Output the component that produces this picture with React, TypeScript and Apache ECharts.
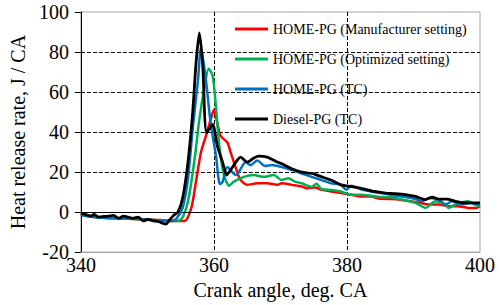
import React, { useEffect, useRef } from "react";
import * as echarts from "echarts";

const seriesNames = [
  "HOME-PG (Manufacturer setting)",
  "HOME-PG (Optimized setting)",
  "HOME-PG (TC)",
  "Diesel-PG (TC)",
];
const seriesColors = ["#FF0000", "#00B050", "#0070C0", "#000000"];

const xTicks = [340, 360, 380, 400];
const yTicks = [-20, 0, 20, 40, 60, 80, 100];

const redAngles = [340, 342, 344, 346, 348, 350, 352, 354, 355.6, 356.6, 357.3, 358.05, 358.8, 359.5, 360, 360.5, 361, 362, 362.5, 363, 363.5, 364, 365, 366.5, 368, 369.5, 370.2, 371.7, 373.2, 374, 375.2, 376.2, 377.6, 379.1, 380.6, 382.1, 383.6, 385, 386.6, 388, 389.5, 391, 392.3, 393.8, 395.3, 396.7, 398.2, 399.5, 400];
const redValues = [-1.5, -2.5, -3, -3.2, -3.5, -3.8, -4, -4.5, -4.4, 2.1, 15.2, 29.9, 38.1, 46.2, 51.1, 44.6, 38.1, 34.8, 30, 25, 20, 16, 13.6, 14.4, 14.4, 13.6, 14.4, 13.6, 12.8, 11.9, 12.3, 11.1, 10.3, 9.5, 8.7, 7.8, 7.8, 6.6, 6.5, 6.2, 5.4, 4.6, 3.8, 3.8, 2.9, 2.9, 2.1, 2.1, 2.9];

const greenAngles = [340, 342, 344, 346, 348, 350, 352, 354, 355.1, 356.1, 357.1, 357.8, 358.6, 359.2, 359.8, 360.3, 360.8, 361.5, 362.3, 363, 364.5, 366, 367.5, 369, 370.2, 371.2, 372.2, 373.2, 374.7, 375.4, 376.2, 377.6, 379.1, 380.6, 382.1, 383.6, 385, 386.6, 388.8, 390.3, 391.8, 393.3, 394.8, 395.3, 396.3, 398.2, 399.2, 400];
const greenValues = [-1.5, -2.5, -3, -3.2, -3.5, -3.8, -4.2, -4.5, -3.6, 5.4, 26.6, 46.2, 62.6, 71.6, 68.3, 52.8, 33.2, 18.5, 13.2, 15.2, 17.6, 18.5, 17.6, 18.5, 16, 16.9, 15.2, 14.4, 12.7, 14.1, 11.4, 11.1, 10.3, 8.7, 8.7, 8.2, 7.5, 7.4, 5.8, 4.6, 2.1, 5.4, 3.8, 2.1, 3.8, 5.4, 3.8, 2.9];

const blueAngles = [340, 342, 344, 346, 348, 350, 352, 353.5, 354.3, 355.3, 356.1, 356.8, 357.6, 358.05, 358.8, 359.5, 360.3, 360.9, 361.3, 362, 363.3, 364.8, 365.5, 366.5, 367.7, 368.7, 370.2, 371.7, 373.2, 374.7, 376.2, 377.6, 379.1, 379.9, 380.6, 382.1, 383.6, 385, 386.6, 387.3, 388.8, 390.3, 391.3, 392.3, 393.8, 394.8, 395.8, 397.2, 398.7, 400];
const blueValues = [-1.5, -2.5, -3, -3, -3.2, -3.8, -4.2, -4.5, -3.5, 2.1, 16.8, 41.3, 65.8, 82.2, 65.8, 44.6, 28.3, 14, 15, 22.5, 18.5, 25, 23.4, 25.8, 23, 23.5, 22.5, 21, 19.3, 17.6, 16, 14.4, 13.6, 11.1, 13.1, 11.4, 10.3, 9.5, 8.7, 8.2, 7.5, 6.5, 5.4, 7, 6.2, 3.8, 5.4, 3.8, 4.6, 3.8];

const blackAngles = [340, 341, 341.5, 342, 342.7, 343.5, 344.2, 344.9, 345.7, 346.4, 347.1, 347.8, 348.6, 349.4, 350.1, 350.9, 351.6, 352.4, 352.8, 353.3, 354, 354.6, 355.3, 356.1, 356.8, 357.3, 357.8, 358.3, 358.9, 359.8, 360.5, 361.3, 361.9, 362.5, 363.3, 364, 365, 366, 366.7, 368, 369.5, 370.2, 371.7, 373.2, 374.7, 376.2, 377.6, 379.1, 379.9, 382.1, 384.1, 385.8, 387.3, 388.8, 390.3, 391.8, 392.8, 393.8, 395, 396.3, 397.7, 400];
const blackValues = [-0.5, -1.5, -2, -1.2, -2.5, -2.2, -2, -1.6, -3.1, -2, -2.5, -3.1, -2.5, -4.4, -3.6, -4.4, -4.7, -5.7, -6, -4.1, -1.5, 0, 7, 25, 49.5, 74, 89.6, 74, 39.7, 43.8, 33.2, 25, 18.5, 21, 25, 27.5, 25, 27, 28, 27.5, 25, 24.2, 21.7, 20, 19.3, 17.6, 16, 13.6, 13.1, 11.9, 10.3, 9.5, 9.2, 8.7, 7.8, 6.2, 7.5, 6.5, 6.5, 5.4, 4.6, 4.6];

const allAngles = [redAngles, greenAngles, blueAngles, blackAngles];
const allValues = [redValues, greenValues, blueValues, blackValues];

const FONT = "'Liberation Serif', 'Times New Roman', serif";

export default function App() {
  const ref = useRef<HTMLDivElement>(null);
  useEffect(() => {
    if (!ref.current) return;
    const chart = echarts.init(ref.current, undefined, { renderer: "svg" });
    const series: any[] = seriesNames.map((name, i) => ({
      name,
      type: "line",
      data: allAngles[i].map((a, j) => [a, allValues[i][j]]),
      symbol: "none",
      smooth: 0.25,
      lineStyle: { color: seriesColors[i], width: i === 3 ? 2.8 : 2.5 },
      itemStyle: { color: seriesColors[i] },
      z: 3 + i,
    }));
    series.push({
      name: "zero",
      type: "line",
      data: [],
      z: 2,
      markLine: {
        silent: true,
        symbol: "none",
        label: { show: false },
        lineStyle: { color: "#000", type: "solid", width: 1 },
        data: [{ yAxis: 0 }],
      },
    });
    chart.setOption({
      animation: false,
      textStyle: { fontFamily: FONT },
      grid: {
        left: 77,
        right: 20,
        top: 12,
        bottom: 48,
        show: true,
        borderColor: "#A6A6A6",
        borderWidth: 1,
      },
      legend: {
        data: seriesNames,
        orient: "vertical",
        left: 235,
        top: 21,
        padding: 0,
        itemWidth: 33,
        itemHeight: 3,
        itemGap: 14,
        icon: "rect",
        textStyle: { fontFamily: FONT, fontSize: 14, color: "#000", lineHeight: 16 },
      },
      xAxis: {
        type: "value",
        min: xTicks[0],
        max: xTicks[xTicks.length - 1],
        interval: 20,
        name: "Crank angle, deg. CA",
        nameLocation: "middle",
        nameGap: 23,
        nameTextStyle: { fontFamily: FONT, fontSize: 20, color: "#000" },
        axisLine: { onZero: false, lineStyle: { color: "#A6A6A6", width: 1 } },
        axisTick: { show: false },
        axisLabel: { fontFamily: FONT, fontSize: 20, color: "#000", margin: 3 },
        splitLine: {
          show: true,
          showMinLine: false,
          showMaxLine: false,
          lineStyle: { color: "#000", type: [4, 2], width: 1 },
        },
      },
      yAxis: {
        type: "value",
        min: yTicks[0],
        max: yTicks[yTicks.length - 1],
        interval: 20,
        name: "Heat release rate, J / CA",
        nameLocation: "middle",
        nameGap: 50,
        nameTextStyle: { fontFamily: FONT, fontSize: 20, color: "#000" },
        axisLine: { show: true, onZero: false, lineStyle: { color: "#000", width: 1 } },
        axisTick: { show: true, length: 6, lineStyle: { color: "#000" } },
        axisLabel: { fontFamily: FONT, fontSize: 20, color: "#000", margin: 12 },
        splitLine: {
          show: true,
          showMinLine: false,
          showMaxLine: false,
          lineStyle: { color: "#000", type: [4, 2], width: 1 },
        },
      },
      series,
    });
    return () => chart.dispose();
  }, []);
  return <div ref={ref} style={{ width: 500, height: 305, position: "absolute", left: 0, top: 0 }} />;
}
